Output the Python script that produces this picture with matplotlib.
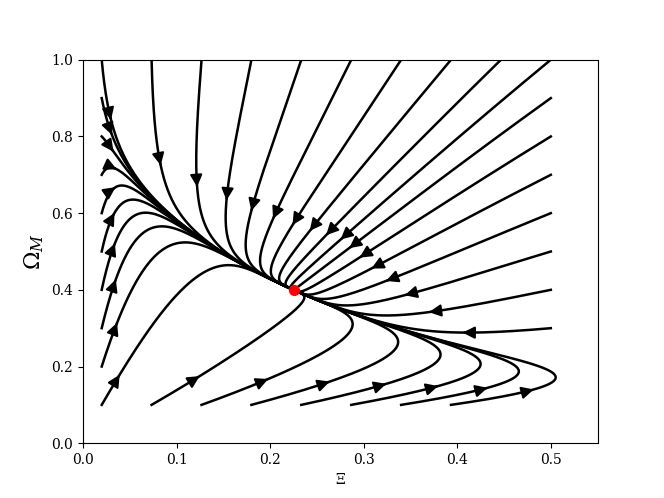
import math
import numpy as np
import matplotlib
matplotlib.use('Agg')
import matplotlib.pyplot as plt

plt.rcParams['font.family'] = 'DejaVu Serif'
plt.rcParams['mathtext.fontset'] = 'dejavuserif'

# fixed point (red dot)
xi_fp = 0.225
om_fp = 0.4

# starting points of the trajectories
top_xi = [0.02, 0.0733, 0.1267, 0.18, 0.2333, 0.2867, 0.34, 0.3933, 0.4467, 0.5]
top_om = 1.0
right_xi = 0.5
right_om = [0.3, 0.4, 0.5, 0.6, 0.7, 0.8, 0.9]
left_xi = 0.02
left_om = [0.1, 0.2, 0.3, 0.4, 0.5, 0.6, 0.7, 0.8, 0.9]
bottom_xi = [0.0733, 0.1267, 0.18, 0.2333, 0.2867, 0.34, 0.3933]
bottom_om = 0.1

# flow constants (matched to the nullclines / curves of the picture)
cy, py, px = 2.9271, 0.9509, 0.2610
c2, c3 = 0.1789, 0.0106
e1, k1, k2 = 0.5740, 0.5802, 0.0248
rr = -0.1027
t_arrow = 0.74   # where the arrow heads sit along each curve

def flow(x, y):
    lx = math.log(x/xi_fp)
    g1 = 1 - (y/om_fp)**e1*math.exp(k1*lx + k2*lx*lx)
    g2 = om_fp - c2*lx - c3*lx*lx - y
    return x*g1, cy*y**py*x**px*math.exp(rr*lx*(y - om_fp))*g2

def trace(x, y, ds=0.002, nmax=3000):
    # step along the curve in axes units, keep the elapsed time too
    xs = [x]; ys = [y]; ts = [0.0]; t = 0.0
    for i in range(nmax):
        u, v = flow(x, y)
        ua = u/0.55
        s = math.hypot(ua, v)
        xm = x + 0.5*ds*ua/s*0.55
        ym = y + 0.5*ds*v/s
        u, v = flow(xm, ym)
        ua = u/0.55
        s = math.hypot(ua, v)
        x = x + ds*ua/s*0.55
        y = y + ds*v/s
        t += ds/s
        xs.append(x); ys.append(y); ts.append(t)
        if math.hypot((x - xi_fp)/0.55, y - om_fp) < 0.004:
            xs.append(xi_fp); ys.append(om_fp); ts.append(t)
            break
        if x > 0.7 or y > 1.2 or x < 1e-3 or y < 1e-3:
            break
    return np.array(xs), np.array(ys), np.array(ts)

starts = [(x, top_om) for x in top_xi]
starts += [(right_xi, y) for y in right_om]
starts += [(left_xi, y) for y in left_om]
starts += [(x, bottom_om) for x in bottom_xi]

fig, ax = plt.subplots(figsize=(6.64, 4.98), dpi=100)

for (x0, y0) in starts:
    xs, ys, ts = trace(x0, y0)
    ax.plot(xs, ys, color='k', lw=1.8)
    i = int(np.searchsorted(ts, t_arrow))
    i = min(max(i, 2), len(xs) - 7)
    ax.annotate('', xy=(xs[i+5], ys[i+5]), xytext=(xs[i+3], ys[i+3]),
                arrowprops=dict(arrowstyle='-|>', color='k', lw=1.5,
                                mutation_scale=18, shrinkA=0, shrinkB=0))

ax.plot(xi_fp, om_fp, 'o', color='red', markersize=7, zorder=5)
ax.set_xlim(0, 0.55)
ax.set_ylim(0, 1.0)
ax.set_xlabel(r'$\Xi$')
ax.set_ylabel(r'$\Omega_M$', fontsize=16)

fig.savefig('out.png', dpi=100)
